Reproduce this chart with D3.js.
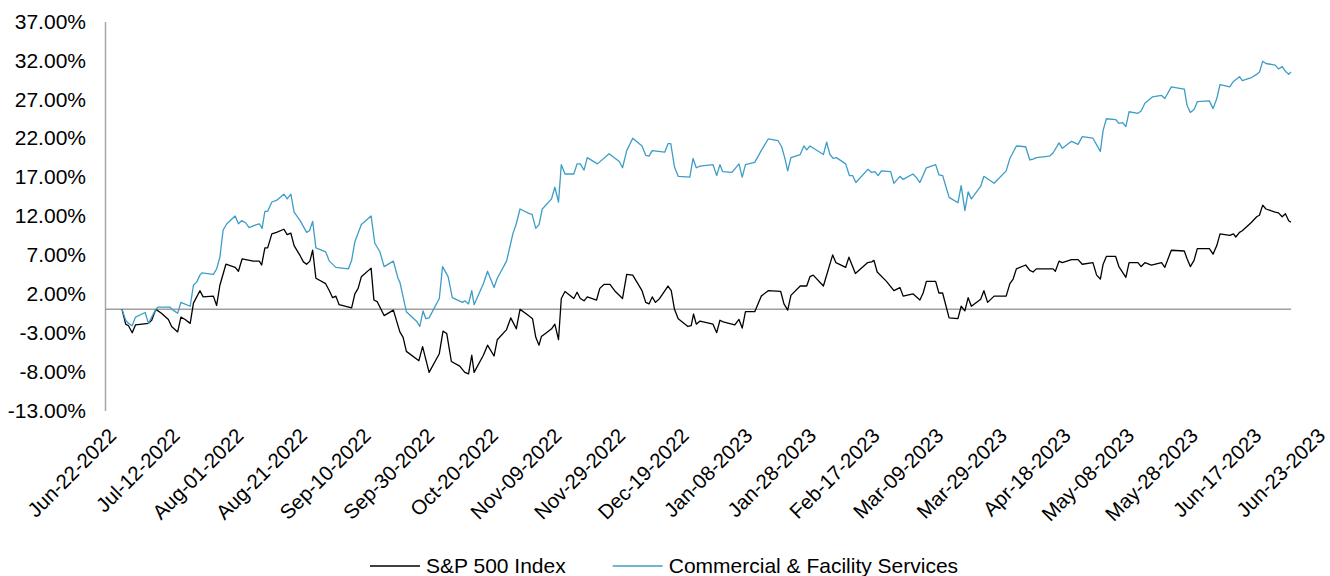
<!DOCTYPE html>
<html>
<head>
<meta charset="utf-8">
<script src="https://cdnjs.cloudflare.com/ajax/libs/d3/7.8.5/d3.min.js"></script>
<style>
  body { margin: 0; background: #fff; }
  svg { display: block; }
  text { font-family: "Liberation Sans", Arial, sans-serif; fill: #000; }
</style>
</head>
<body>
<svg id="chart"></svg>
<script>
const seriesNames = ['S&P 500 Index', 'Commercial & Facility Services'];
const seriesColors = ['#000000', '#3d9dc6'];

const dateLabels = [
  'Jun-22-2022', 'Jul-12-2022', 'Aug-01-2022', 'Aug-21-2022', 'Sep-10-2022',
  'Sep-30-2022', 'Oct-20-2022', 'Nov-09-2022', 'Nov-29-2022', 'Dec-19-2022',
  'Jan-08-2023', 'Jan-28-2023', 'Feb-17-2023', 'Mar-09-2023', 'Mar-29-2023',
  'Apr-18-2023', 'May-08-2023', 'May-28-2023', 'Jun-17-2023', 'Jun-23-2023'
];

const yTicks = [-13, -8, -3, 2, 7, 12, 17, 22, 27, 32, 37];

// [trading session since Jun-22-2022, % change]
const spPoints = [
  [0,0],[0.8,-1.9],[1.4,-2.1],[2.2,-3.0],[2.9,-2.0],[5.7,-1.8],[6.4,-1.4],[7.3,0.0],[8.5,-0.5],[10.0,-1.3],
  [10.7,-2.2],[12.0,-2.9],[12.7,-1.0],[13.6,-1.3],[14.7,-1.8],[15.4,0.8],[16.8,2.4],[17.5,1.6],[19.7,1.7],[20.4,0.5],
  [21.1,3.1],[22.4,5.8],[24.4,5.4],[25.1,4.9],[25.9,6.5],[28.3,6.2],[29.6,6.2],[30.1,5.7],[30.8,7.9],[31.4,7.9],
  [32.3,9.7],[33.3,9.9],[34.9,10.3],[35.6,9.6],[36.4,9.8],[37.1,8.2],[38.4,6.9],[39.1,6.1],[39.8,5.8],[40.5,6.2],
  [41.1,7.6],[41.8,4.0],[43.9,3.3],[44.7,2.4],[45.4,1.5],[46.1,1.7],[46.8,0.6],[49.5,0.2],[50.2,2.0],[50.9,2.7],
  [51.6,4.2],[53.7,5.3],[54.3,1.2],[55.0,1.0],[56.5,-0.8],[58.5,-0.1],[59.9,-2.9],[60.6,-3.6],[61.3,-5.4],[64.0,-6.6],
  [64.8,-4.8],[66.2,-8.1],[68.4,-5.7],[69.2,-2.8],[70.0,-3.1],[71.0,-6.7],[72.8,-7.3],[73.9,-8.1],[74.7,-8.3],[75.4,-5.9],
  [75.9,-8.1],[77.9,-5.9],[78.8,-4.6],[80.2,-6.0],[80.9,-3.9],[82.9,-2.6],[83.8,-1.1],[85.0,-2.5],[85.8,0.0],[87.2,-0.6],
  [88.5,-1.2],[89.2,-3.6],[89.9,-4.6],[90.4,-3.5],[91.5,-3.0],[92.6,-2.5],[93.3,-1.9],[94.1,-3.9],[94.7,1.4],[95.5,2.3],
  [97.4,1.4],[98.1,2.2],[98.8,1.4],[99.6,1.1],[100.3,1.6],[102.3,1.2],[103.0,2.7],[103.9,3.2],[105.2,3.2],[106.2,2.4],
  [107.9,1.4],[108.8,4.5],[110.1,4.4],[112.1,2.4],[112.9,0.9],[113.6,0.7],[114.3,1.6],[115.0,0.9],[115.9,1.4],[117.7,3.0],
  [118.4,2.4],[119.1,0.0],[119.9,-1.2],[122.0,-2.2],[122.7,-2.1],[123.2,-0.6],[123.8,-1.9],[124.6,-1.5],[127.4,-1.9],[128.2,-3.0],
  [128.9,-1.4],[129.6,-1.6],[132.1,-2.0],[133.0,-1.3],[133.7,-2.4],[134.4,-0.3],[136.4,-0.3],[137.8,1.7],[139.3,2.4],[142.0,2.3],
  [142.7,0.7],[143.5,-0.1],[144.2,1.8],[146.2,3.0],[147.6,3.0],[148.3,4.2],[149.0,4.4],[151.2,3.0],[153.2,7.0],[153.9,6.0],
  [156.0,5.4],[156.7,6.7],[158.1,4.6],[160.7,6.0],[161.6,6.1],[162.1,6.3],[162.8,4.8],[164.8,3.6],[166.4,2.4],[167.7,2.8],
  [168.4,1.7],[170.5,2.0],[172.0,1.2],[172.7,2.1],[173.4,3.6],[175.4,3.6],[176.1,2.1],[176.9,2.1],[178.3,-1.1],[180.2,-1.2],
  [180.9,0.4],[181.7,-0.2],[182.4,1.5],[183.1,0.4],[185.1,1.3],[185.8,2.4],[186.6,0.9],[188.0,1.7],[190.6,1.7],[191.4,3.3],
  [192.1,3.9],[192.8,5.2],[194.8,5.7],[195.7,5.0],[196.4,4.8],[197.1,5.2],[200.7,5.2],[201.2,4.9],[202.0,6.2],[202.7,6.0],
  [204.7,6.4],[206.1,6.4],[207.0,5.8],[209.3,6.0],[210.1,4.4],[210.9,3.9],[211.5,5.8],[212.2,6.8],[214.2,6.8],[214.9,5.5],
  [216.4,4.1],[217.1,6.0],[219.0,6.0],[219.7,5.5],[220.5,6.0],[221.9,5.7],[224.1,6.0],[224.8,5.4],[226.2,7.6],[229.0,7.5],
  [229.6,6.5],[230.3,5.5],[231.1,6.3],[231.8,7.8],[234.4,7.8],[235.2,7.1],[236.0,8.2],[236.7,9.7],[238.8,9.5],[239.6,9.7],
  [240.1,9.3],[240.9,9.9],[241.5,10.1],[243.5,11.2],[244.6,11.9],[245.2,12.1],[245.9,13.4],[246.6,12.9],[248.6,12.5],[249.3,12.4],
  [250.1,11.9],[250.8,12.3],[251.5,11.4],[252.0,11.2]
];

const cfsPoints = [
  [0,0],[0.8,-1.4],[1.4,-1.8],[2.2,-2.1],[2.9,-1.0],[5.0,-0.4],[5.7,-1.8],[6.4,-1.0],[7.3,0.0],[7.8,0.3],
  [10.3,0.3],[11.0,-0.1],[12.0,-0.5],[12.7,0.9],[14.7,0.4],[15.4,3.1],[16.1,3.5],[16.8,4.4],[17.2,4.7],[19.7,4.5],
  [20.4,5.2],[21.1,6.7],[21.8,10.2],[22.6,11.0],[24.4,12.0],[25.1,11.0],[25.8,11.4],[26.7,11.1],[27.4,10.5],[29.0,10.9],
  [29.6,11.0],[30.2,10.4],[30.8,12.6],[31.4,12.6],[32.3,13.8],[33.3,14.0],[34.9,14.8],[35.6,14.2],[36.4,14.8],[37.1,12.5],
  [38.4,11.4],[39.8,9.9],[40.4,10.1],[41.1,11.3],[41.8,7.9],[43.9,7.4],[44.7,6.2],[46.1,5.4],[48.8,5.2],[49.5,6.3],
  [50.2,8.7],[51.6,10.9],[53.7,12.0],[54.5,8.5],[55.6,7.4],[56.5,5.5],[58.5,6.2],[59.5,4.0],[59.9,3.5],[61.3,-0.3],
  [63.6,-1.6],[64.2,-2.2],[64.9,-0.2],[65.5,-1.2],[66.2,-1.1],[68.4,1.4],[69.1,5.5],[70.3,4.2],[71.2,1.5],[73.4,0.9],
  [73.9,1.1],[74.7,0.7],[75.4,2.4],[75.9,0.6],[77.9,3.3],[78.8,4.9],[80.2,2.8],[80.9,4.0],[82.9,6.2],[84.3,9.8],
  [85.0,11.0],[85.8,12.9],[87.8,12.3],[88.4,12.2],[89.2,10.4],[89.9,10.9],[90.6,12.9],[92.6,14.2],[93.3,15.7],[94.1,13.8],
  [94.7,18.6],[95.5,17.4],[97.4,17.4],[98.1,18.7],[98.8,18.7],[99.6,17.9],[100.3,19.5],[102.5,18.7],[105.0,20.0],[107.2,19.0],
  [107.9,18.2],[108.8,20.4],[110.1,22.0],[112.1,21.0],[112.9,19.8],[113.6,19.7],[114.3,20.4],[117.0,20.2],[117.7,21.3],[118.3,21.3],
  [119.1,18.3],[119.9,17.1],[122.4,17.0],[123.1,19.4],[123.8,18.2],[124.6,18.4],[127.4,18.6],[128.2,17.2],[128.9,18.6],[129.5,17.7],
  [131.5,17.6],[133.0,18.7],[133.7,17.0],[134.4,18.6],[136.4,18.9],[137.8,20.4],[139.3,21.9],[141.4,21.7],[142.2,20.9],[142.9,19.4],
  [143.5,17.8],[144.2,19.5],[146.2,19.9],[147.0,21.0],[147.6,20.5],[148.3,21.0],[151.2,19.9],[151.9,21.5],[152.6,19.9],[153.3,19.4],
  [154.0,19.5],[156.0,18.7],[156.8,17.2],[157.5,17.2],[158.2,16.3],[160.8,18.0],[161.6,17.6],[162.3,17.7],[163.0,17.2],[163.7,17.8],
  [165.7,17.7],[166.4,16.2],[167.7,17.1],[168.4,16.7],[170.5,17.4],[171.3,16.9],[172.0,16.3],[173.4,18.2],[175.4,18.6],[176.1,17.3],
  [176.9,17.2],[178.3,14.4],[180.2,13.7],[180.9,15.9],[181.7,12.7],[182.4,15.1],[183.1,14.2],[185.1,15.8],[185.8,17.1],[188.0,16.2],
  [190.6,17.8],[191.4,19.4],[192.8,21.0],[194.8,20.9],[195.7,19.2],[196.4,19.3],[197.1,19.5],[200.0,19.7],[200.7,20.1],[202.0,21.4],
  [202.7,20.7],[204.7,21.6],[206.1,21.2],[207.0,22.2],[209.3,22.0],[210.9,20.3],[211.5,23.0],[212.2,24.5],[214.2,24.4],[214.9,23.9],
  [215.7,24.0],[216.4,23.5],[217.1,25.4],[219.0,25.2],[219.7,25.5],[220.5,26.5],[222.1,27.3],[224.1,27.5],[224.8,27.1],[226.2,28.6],
  [228.0,28.4],[229.0,28.3],[229.6,26.2],[230.3,25.3],[231.1,25.7],[231.8,26.7],[234.4,26.8],[235.2,25.8],[236.0,27.1],[236.7,28.9],
  [238.8,28.6],[239.6,29.3],[240.9,29.9],[241.5,29.4],[243.5,29.8],[244.6,30.2],[245.2,30.5],[245.9,31.9],[246.6,31.6],[248.6,31.4],
  [249.3,30.9],[250.1,31.2],[250.8,30.6],[251.5,30.2],[252.0,30.5]
];

const width = 1330;
const height = 576;
const axisX = 105;
const fontStack = '"Liberation Sans", Arial, sans-serif';

const svg = d3.select('#chart')
  .attr('width', width)
  .attr('height', height)
  .attr('viewBox', `0 0 ${width} ${height}`);

const x = d3.scaleLinear().domain([0, 252]).range([122, 1291]);
const y = d3.scaleLinear().domain([-13, 37]).range([410.5, 21.5]);
const xLabel = d3.scalePoint().domain(dateLabels).range([117, 1326]);

// y axis
const yAxis = svg.append('g')
  .attr('transform', `translate(${axisX},0)`)
  .call(d3.axisLeft(y)
    .tickValues(yTicks)
    .tickFormat(d => d.toFixed(2) + '%')
    .tickSize(0)
    .tickSizeOuter(0)
    .tickPadding(19));
yAxis.select('.domain').attr('stroke', '#a6a6a6').attr('stroke-width', 1.5);
yAxis.selectAll('.tick text')
  .attr('font-size', '21px')
  .attr('font-family', fontStack)
  .attr('fill', '#000');

// zero line
svg.append('line')
  .attr('x1', axisX)
  .attr('x2', x(252))
  .attr('y1', y(0))
  .attr('y2', y(0))
  .attr('stroke', '#a0a0a0')
  .attr('stroke-width', 1.5);

// x labels
const xAxis = svg.append('g')
  .attr('transform', 'translate(0,437)')
  .call(d3.axisBottom(xLabel).tickSize(0).tickPadding(0));
xAxis.select('.domain').remove();
xAxis.selectAll('.tick text')
  .attr('x', 0)
  .attr('y', 0)
  .attr('dy', 0)
  .attr('text-anchor', 'end')
  .attr('transform', 'rotate(-45)')
  .attr('font-size', '20.5px')
  .attr('font-family', fontStack)
  .attr('fill', '#000');

// lines
const line = d3.line()
  .x(d => x(d[0]))
  .y(d => y(d[1]));

[spPoints, cfsPoints].forEach((pts, i) => {
  svg.append('path')
    .attr('d', line(pts))
    .attr('fill', 'none')
    .attr('stroke', seriesColors[i])
    .attr('stroke-width', 1.3)
    .attr('stroke-linejoin', 'round');
});

// legend
const legend = svg.append('g').attr('transform', 'translate(370,566)');
let lx = 0;
seriesNames.forEach((name, i) => {
  legend.append('line')
    .attr('x1', lx)
    .attr('x2', lx + 50)
    .attr('y1', 0)
    .attr('y2', 0)
    .attr('stroke', seriesColors[i])
    .attr('stroke-width', 1.3);
  const t = legend.append('text')
    .attr('x', lx + 56)
    .attr('y', 0)
    .attr('dy', '0.35em')
    .attr('font-size', '21px')
    .text(name);
  lx += 56 + t.node().getComputedTextLength() + 47;
});
</script>
</body>
</html>
